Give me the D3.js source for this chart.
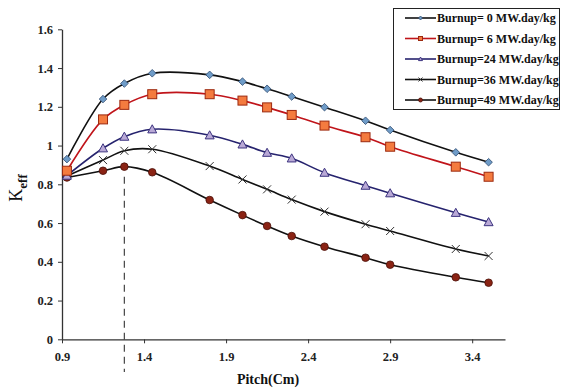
<!DOCTYPE html>
<html><head><meta charset="utf-8">
<script src="https://cdn.jsdelivr.net/npm/d3@7"></script>
<style>
body{margin:0;background:#fff;}
svg text{font-family:"Liberation Serif","Tinos","Times New Roman","DejaVu Serif",serif !important;font-weight:bold;}
</style></head>
<body><svg id="c" width="563" height="390"></svg>
<script>
const pitch = [0.93, 1.15, 1.28, 1.45, 1.8, 2.0, 2.15, 2.3, 2.5, 2.75, 2.9, 3.3, 3.5];
const burnup0  = [0.93, 1.24, 1.32, 1.373, 1.365, 1.33, 1.293, 1.253, 1.198, 1.128, 1.08, 0.965, 0.914];
const burnup6  = [0.87, 1.135, 1.21, 1.265, 1.265, 1.232, 1.197, 1.158, 1.103, 1.043, 0.994, 0.891, 0.839];
const burnup24 = [0.845, 0.986, 1.046, 1.084, 1.053, 1.006, 0.963, 0.934, 0.860, 0.793, 0.754, 0.653, 0.605];
const burnup36 = [0.843, 0.925, 0.973, 0.981, 0.894, 0.825, 0.774, 0.721, 0.659, 0.594, 0.559, 0.466, 0.430];
const burnup49 = [0.835, 0.870, 0.891, 0.862, 0.719, 0.641, 0.585, 0.533, 0.478, 0.421, 0.385, 0.320, 0.292];
const seriesNames = ["Burnup= 0 MW.day/kg","Burnup= 6 MW.day/kg","Burnup=24 MW.day/kg","Burnup=36 MW.day/kg","Burnup=49 MW.day/kg"];
const xTicks = [0.9, 1.4, 1.9, 2.4, 2.9, 3.4];
const yTicks = [0, 0.2, 0.4, 0.6, 0.8, 1, 1.2, 1.4, 1.6];

const series = [
  {name:seriesNames[0], values:burnup0, line:"#111", marker:"diamond", fill:"#6f9cc8", stroke:"#2d4a6e"},
  {name:seriesNames[1], values:burnup6, line:"#c0141a", marker:"square", fill:"#f47b3f", stroke:"#9c2a10"},
  {name:seriesNames[2], values:burnup24, line:"#26236e", marker:"triangle", fill:"#b9a9d6", stroke:"#3d3480"},
  {name:seriesNames[3], values:burnup36, line:"#111", marker:"cross", fill:"none", stroke:"#333"},
  {name:seriesNames[4], values:burnup49, line:"#111", marker:"circle", fill:"#8a2314", stroke:"#4a0f08"}
];

const FONT = "'Liberation Serif','Tinos','Times New Roman','DejaVu Serif',serif";
const svg = d3.select("#c");
const x = d3.scaleLinear().domain([0.9, 3.6]).range([62, 505]);
const y = d3.scaleLinear().domain([0, 1.6]).range([339.3, 29.3]);

// axes
const xa = svg.append("g").attr("transform","translate(0,339.3)")
  .call(d3.axisBottom(x).tickValues(xTicks).tickSize(4).tickSizeOuter(0).tickFormat(d3.format("")));
const ya = svg.append("g").attr("transform","translate(62,0)")
  .call(d3.axisLeft(y).tickValues(yTicks).tickSize(4).tickSizeOuter(0).tickFormat(d3.format("")));
[xa, ya].forEach(a=>{
  a.attr("font-family", FONT).attr("font-weight","bold");
  a.select(".domain").attr("stroke","#333").attr("stroke-width",1.3);
  a.selectAll(".tick line").attr("stroke","#333");
  a.selectAll(".tick text").attr("fill","#222").style("font-size","12.5px");
});
xa.selectAll(".tick text").attr("dy","1.15em");
ya.selectAll(".tick text").attr("x",-9);

// dashed marker line at peak of 49 curve
const pk = d3.maxIndex(burnup49);
svg.append("line").attr("x1",x(pitch[pk])).attr("x2",x(pitch[pk]))
  .attr("y1",y(burnup49[pk])+10).attr("y2",372)
  .attr("stroke","#444").attr("stroke-width",1.2).attr("stroke-dasharray","7,5");

const line = d3.line().x((d,i)=>x(pitch[i])).y(d=>y(d)).curve(d3.curveCatmullRom.alpha(0.5));

function drawMarker(g, type, cx, cy, s, fill, stroke){
  if(type==="diamond"){
    g.append("path").attr("d",`M${cx},${cy-s}L${cx+s},${cy}L${cx},${cy+s}L${cx-s},${cy}Z`)
     .attr("fill",fill).attr("stroke",stroke).attr("stroke-width",0.8);
  } else if(type==="square"){
    g.append("rect").attr("x",cx-s).attr("y",cy-s).attr("width",2*s).attr("height",2*s)
     .attr("fill",fill).attr("stroke",stroke).attr("stroke-width",1);
  } else if(type==="triangle"){
    g.append("path").attr("d",`M${cx},${cy-s}L${cx+s},${cy+s*0.8}L${cx-s},${cy+s*0.8}Z`)
     .attr("fill",fill).attr("stroke",stroke).attr("stroke-width",1);
  } else if(type==="cross"){
    g.append("path").attr("d",`M${cx-s},${cy-s}L${cx+s},${cy+s}M${cx-s},${cy+s}L${cx+s},${cy-s}`)
     .attr("fill","none").attr("stroke",stroke).attr("stroke-width",1);
  } else {
    g.append("circle").attr("cx",cx).attr("cy",cy).attr("r",s)
     .attr("fill",fill).attr("stroke",stroke).attr("stroke-width",0.8);
  }
}
const sizes = {diamond:3.8, square:4.5, triangle:4.5, cross:4, circle:3.8};

series.forEach(s=>{
  svg.append("path").datum(s.values).attr("d",line)
    .attr("fill","none").attr("stroke",s.line).attr("stroke-width",1.6);
});
series.slice().reverse().forEach(s=>{
  const g = svg.append("g");
  s.values.forEach((v,i)=>drawMarker(g, s.marker, x(pitch[i]), y(v), sizes[s.marker], s.fill, s.stroke));
});

// legend
const lg = svg.append("g").attr("font-family", FONT);
lg.append("rect").attr("x",393.5).attr("y",8.5).attr("width",166).attr("height",101)
  .attr("fill","#fff").attr("stroke","#222").attr("stroke-width",1);
series.forEach((s,i)=>{
  const yy = 18 + i*20.5;
  lg.append("line").attr("x1",405).attr("x2",436).attr("y1",yy).attr("y2",yy)
    .attr("stroke",s.line).attr("stroke-width",1.6);
  drawMarker(lg, s.marker, 420.5, yy, 2, s.fill, s.stroke);
  lg.append("text").attr("x",437).attr("y",yy+4).text(s.name)
    .style("font-size","12px").attr("fill","#111");
});

// axis titles
svg.append("text").attr("x",268).attr("y",384).attr("text-anchor","middle")
  .attr("font-family", FONT).style("font-size","14px").attr("fill","#111").text("Pitch(Cm)");
const yl = svg.append("text").attr("transform","translate(22,188) rotate(-90)")
  .attr("font-family", FONT).attr("text-anchor","middle").attr("fill","#111");
yl.append("tspan").text("K").style("font-size","18px").style("font-weight","normal");
yl.append("tspan").text("eff").attr("dy",5).style("font-size","13px");
</script></body></html>
